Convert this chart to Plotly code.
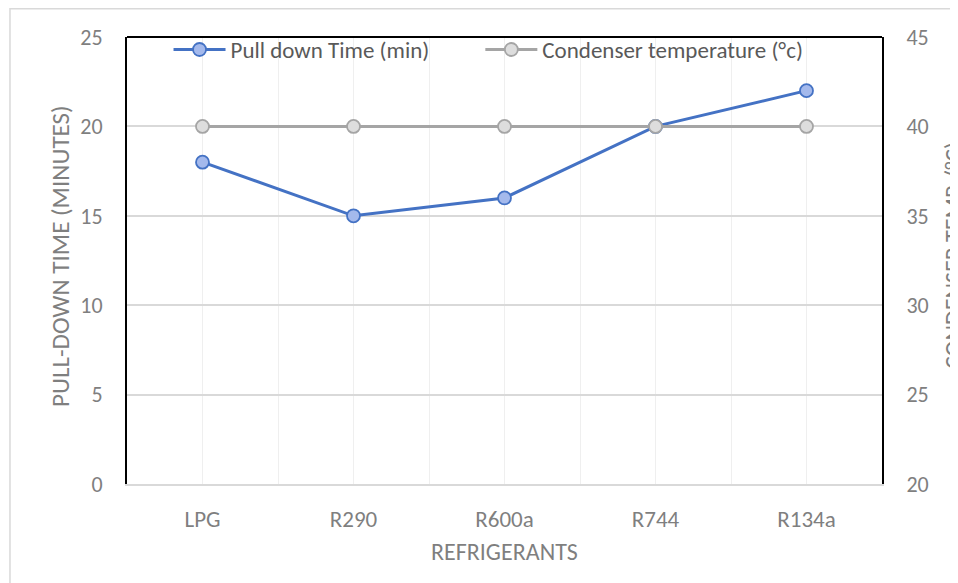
import plotly.graph_objects as go

# Dados
refrigerantes = ["LPG", "R290", "R600a", "R744", "R134a"]
tempo_pull_down = [18, 15, 16, 20, 22]
temp_condensador = [40, 40, 40, 40, 40]

FONTE = "Calibri, Carlito, 'Open Sans', sans-serif"
CINZA_TEXTO = "#7f7f7f"
AZUL = "#4472C4"
CINZA = "#A5A5A5"

# A pagina tem 8 px de margem no body: a area de plotagem fica em
# x 127..882 e y 37..484 na janela.
posicoes = list(range(len(refrigerantes)))

fig = go.Figure()
fig.add_trace(
    go.Scatter(
        x=posicoes,
        y=tempo_pull_down,
        name="Pull down Time (min)",
        mode="lines+markers",
        line={"color": AZUL, "width": 3},
        marker={"size": 13, "color": "#A4B9EC", "line": {"color": AZUL, "width": 1.8}},
        legend="legend",
    )
)
fig.add_trace(
    go.Scatter(
        x=posicoes,
        y=temp_condensador,
        name="Condenser temperature (°c)",
        mode="lines+markers",
        yaxis="y2",
        line={"color": CINZA, "width": 3},
        marker={"size": 13, "color": "#DDDDDD", "line": {"color": CINZA, "width": 1.8}},
        legend="legend2",
    )
)

eixo_y = dict(
    tickfont={"family": FONTE, "size": 22, "color": CINZA_TEXTO},
    dtick=5,
    zeroline=False,
    showline=True,
    linecolor="#000000",
    linewidth=2,
    ticks="",
    ticklabelstandoff=18,
)

legenda = dict(
    orientation="h",
    y=1.02,
    xanchor="left",
    yanchor="top",
    bgcolor="rgba(0,0,0,0)",
    font={"family": FONTE, "size": 23, "color": "#595959"},
    itemwidth=52,
)

fig.update_layout(
    width=958,
    height=583,
    margin={"l": 119, "r": 84, "t": 29, "b": 107},
    paper_bgcolor="white",
    plot_bgcolor="white",
    showlegend=True,
    legend={**legenda, "x": 0.055},
    legend2={**legenda, "x": 0.468},
    xaxis=dict(
        range=[-0.5, len(refrigerantes) - 0.5],
        tickvals=posicoes,
        ticktext=refrigerantes,
        tickfont={"family": FONTE, "size": 23, "color": CINZA_TEXTO},
        showgrid=True,
        gridcolor="#efefef",
        gridwidth=1,
        minor={"dtick": 1, "tick0": 0.5, "showgrid": True, "gridcolor": "#efefef"},
        zeroline=False,
        showline=True,
        linecolor="#d9d9d9",
        linewidth=2,
        ticks="",
        ticklabelstandoff=13,
    ),
    yaxis=dict(
        range=[0, 25],
        showgrid=True,
        gridcolor="#d9d9d9",
        gridwidth=1.5,
        **eixo_y,
    ),
    yaxis2=dict(
        range=[20, 45],
        overlaying="y",
        side="right",
        showgrid=False,
        **eixo_y,
    ),
    shapes=[
        # borda externa clara
        {
            "type": "rect",
            "xref": "paper",
            "yref": "paper",
            "x0": -0.155,
            "x1": 1.3,
            "y0": -0.4,
            "y1": 1.063,
            "line": {"color": "#d9d9d9", "width": 1.5},
            "layer": "below",
        },
        # linha superior preta do quadro
        {
            "type": "line",
            "xref": "paper",
            "yref": "paper",
            "x0": 0,
            "x1": 1,
            "y0": 1,
            "y1": 1,
            "line": {"color": "#000000", "width": 2},
        },
    ],
    annotations=[
        {
            "text": "PULL-DOWN TIME (MINUTES)",
            "xref": "paper",
            "yref": "paper",
            "x": (60 - 127) / 755,
            "y": 0.51,
            "xanchor": "center",
            "yanchor": "middle",
            "textangle": -90,
            "showarrow": False,
            "font": {"family": FONTE, "size": 25, "color": CINZA_TEXTO},
        },
        {
            "text": "CONDENSER TEMP. (°C)",
            "xref": "paper",
            "yref": "paper",
            "x": (953 - 127) / 755,
            "y": 0.51,
            "xanchor": "center",
            "yanchor": "middle",
            "textangle": -90,
            "showarrow": False,
            "font": {"family": FONTE, "size": 24, "color": CINZA_TEXTO},
        },
        {
            "text": "REFRIGERANTS",
            "xref": "paper",
            "yref": "paper",
            "x": 0.5,
            "y": -(551 - 484) / 447,
            "xanchor": "center",
            "yanchor": "middle",
            "showarrow": False,
            "font": {"family": FONTE, "size": 24, "color": CINZA_TEXTO},
        },
    ],
)

fig.write_html("out.html")
